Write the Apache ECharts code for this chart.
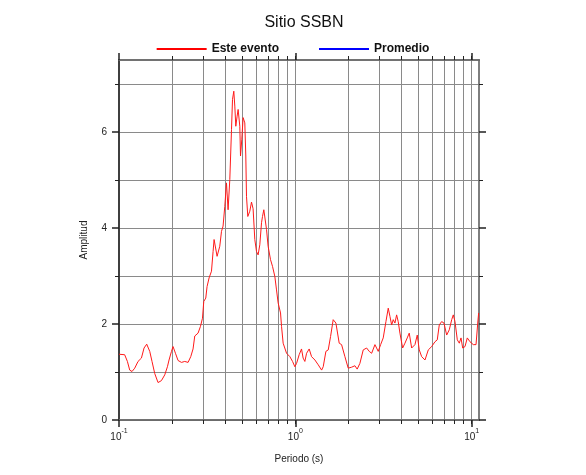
<!DOCTYPE html>
<html><head><meta charset="utf-8">
<script src="https://cdn.jsdelivr.net/npm/echarts@6/dist/echarts.min.js"></script>
<style>html,body{margin:0;padding:0;background:#fff}#c{width:586px;height:475px}</style>
</head><body><div id="c"></div>
<script>
// ---- data ----
var periods = [0.100,0.1077,0.1116,0.1150,0.1185,0.1228,0.1282,0.1340,0.1387,0.1436,0.1494,0.1539,0.1594,0.1665,0.1740,0.1817,0.1882,0.1922,0.1984,0.2025,0.2090,0.2162,0.2260,0.2360,0.2464,0.2552,0.2630,0.2689,0.2808,0.2897,0.2974,0.3025,0.3105,0.3158,0.3242,0.3345,0.3416,0.3461,0.3539,0.3599,0.3665,0.3728,0.3812,0.3892,0.3980,0.4069,0.4155,0.4249,0.4345,0.4402,0.4477,0.4536,0.4596,0.4675,0.4737,0.4842,0.4887,0.4971,0.5055,0.5169,0.5237,0.5284,0.5375,0.5517,0.5641,0.5760,0.5889,0.6022,0.6149,0.6287,0.6429,0.6513,0.6625,0.6739,0.6863,0.7008,0.7232,0.7423,0.7650,0.7821,0.7987,0.8241,0.8350,0.8527,0.8915,0.9307,0.9641,0.9936,1.016,1.051,1.084,1.107,1.132,1.158,1.198,1.236,1.291,1.348,1.409,1.439,1.490,1.536,1.584,1.639,1.698,1.773,1.829,1.910,1.994,2.084,2.176,2.242,2.323,2.426,2.536,2.624,2.708,2.827,2.951,3.045,3.150,3.263,3.363,3.438,3.516,3.590,3.670,3.752,3.831,3.918,4.058,4.182,4.310,4.424,4.565,4.766,4.912,5.042,5.203,5.433,5.672,5.929,6.190,6.380,6.548,6.756,6.962,7.213,7.463,7.701,7.863,8.040,8.286,8.505,8.697,8.891,9.163,9.441,9.781,10.21,10.58,10.82,10.95];
var esteEvento = [1.37,1.36,1.22,1.04,1.01,1.08,1.22,1.29,1.50,1.58,1.43,1.22,0.97,0.78,0.82,0.94,1.11,1.25,1.43,1.53,1.39,1.24,1.20,1.22,1.20,1.32,1.48,1.75,1.81,1.95,2.12,2.47,2.54,2.78,2.96,3.10,3.51,3.76,3.72,3.41,3.38,3.62,3.93,4.04,4.45,4.94,4.38,5.01,6.05,6.68,6.85,6.54,6.12,6.33,6.47,6.12,5.50,5.85,6.30,6.19,5.50,4.66,4.24,4.35,4.54,4.40,3.76,3.51,3.44,3.65,4.11,4.24,4.38,4.35,3.97,3.62,3.34,3.20,2.99,2.71,2.44,2.23,1.95,1.60,1.39,1.32,1.22,1.11,1.18,1.36,1.48,1.29,1.22,1.39,1.48,1.32,1.25,1.15,1.04,1.11,1.43,1.46,1.74,2.09,2.02,1.60,1.57,1.32,1.08,1.10,1.13,1.06,1.18,1.46,1.50,1.43,1.39,1.57,1.43,1.57,1.71,2.05,2.33,2.16,1.98,2.09,2.02,2.19,2.05,1.81,1.50,1.60,1.71,1.81,1.50,1.57,1.77,1.46,1.32,1.25,1.46,1.53,1.63,1.67,1.98,2.05,2.02,1.77,1.88,2.09,2.19,2.05,1.67,1.60,1.71,1.50,1.53,1.71,1.63,1.57,1.57,2.02,2.23];
var promedio = [];
var xMajor = [0.1, 1, 10];
var xMajorExp = ['-1', '0', '1'];
var xMinor = [0.2,0.3,0.4,0.5,0.6,0.7,0.8,0.9,1,2,3,4,5,6,7,8,9,10];
var yMajor = [0, 2, 4, 6];
var yMinor = [1, 3, 5, 7];
var xMin = 0.1, xMax = 11, yMin = 0, yMax = 7.5;

// ---- chart ----
var chart = echarts.init(document.getElementById('c'), null, {renderer: 'canvas'});
var FONT = 'Liberation Sans, Arial, sans-serif';
var gridColor = '#8a8a8a';
var borderColor = '#333';

function xAxisDef(pos, major) {
  return {
    type: 'log', logBase: 10, min: xMin, max: xMax, position: pos,
    axisLine: {show: true, onZero: false, lineStyle: {color: major ? borderColor : '#777', width: 1.5}},
    axisTick: {show: true, inside: false, length: major ? 7 : 4,
      customValues: major ? xMajor : xMinor,
      lineStyle: {color: '#222', width: major ? 1.5 : 1}},
    axisLabel: (pos === 'bottom' && major) ? {
      show: true, customValues: xMajor, margin: 8, fontFamily: FONT, color: '#222',
      formatter: function (v) {
        var i = -1;
        for (var k = 0; k < xMajor.length; k++) { if (Math.abs(xMajor[k] - v) < 1e-6 * xMajor[k]) i = k; }
        return i < 0 ? '' : '{b|10}{s|' + xMajorExp[i] + '}';
      },
      rich: {b: {fontSize: 10, fontFamily: FONT, color: '#222', verticalAlign: 'bottom', lineHeight: 14},
             s: {fontSize: 7, fontFamily: FONT, color: '#222', verticalAlign: 'top', lineHeight: 14}}
    } : {show: false},
    splitLine: {show: pos === 'bottom' && !major, lineStyle: {color: gridColor, width: 1}},
    name: (pos === 'bottom' && major) ? 'Periodo (s)' : '',
    nameLocation: 'middle', nameGap: 34,
    nameTextStyle: {fontFamily: FONT, fontSize: 10, color: '#222'}
  };
}
function yAxisDef(pos, major) {
  return {
    type: 'value', min: yMin, max: yMax, position: pos,
    axisLine: {show: true, onZero: false, lineStyle: {color: (pos === 'left') ? borderColor : '#777', width: 1.5}},
    axisTick: {show: true, inside: false, length: major ? 7 : 4,
      customValues: major ? yMajor : yMinor,
      lineStyle: {color: '#222', width: major ? 1.5 : 1}},
    axisLabel: (pos === 'left' && major) ? {
      show: true, customValues: yMajor, margin: 12, fontFamily: FONT, fontSize: 10, color: '#222'
    } : {show: false},
    splitLine: {show: pos === 'left', lineStyle: {color: gridColor, width: 1}},
    name: (pos === 'left' && major) ? 'Amplitud' : '',
    nameLocation: 'middle', nameGap: 30,
    nameTextStyle: {fontFamily: FONT, fontSize: 10, color: '#222'}
  };
}

chart.setOption({
  animation: false,
  backgroundColor: '#fff',
  title: {text: 'Sitio SSBN', left: 299, textAlign: 'center', top: 10,
    textStyle: {fontFamily: FONT, fontSize: 16, fontWeight: 'normal', color: '#111'}},
  legend: {
    top: 38, left: 'center', itemWidth: 50, itemHeight: 2, itemGap: 40, icon: 'rect',
    data: ['Este evento', 'Promedio'],
    textStyle: {fontFamily: FONT, fontSize: 12, fontWeight: 'bold', color: '#111'}
  },
  grid: {left: 119, right: 107, top: 60, bottom: 55, containLabel: false},
  xAxis: [xAxisDef('bottom', true), xAxisDef('bottom', false), xAxisDef('top', true), xAxisDef('top', false)],
  yAxis: [yAxisDef('left', true), yAxisDef('left', false), yAxisDef('right', true), yAxisDef('right', false)],
  series: [
    {name: 'Este evento', type: 'line', xAxisIndex: 0, yAxisIndex: 0, showSymbol: false, symbol: 'none',
     color: '#ff0000', lineStyle: {color: '#ff1a1a', width: 1},
     data: periods.map(function (p, i) { return [p, esteEvento[i]]; }), z: 5},
    {name: 'Promedio', type: 'line', xAxisIndex: 0, yAxisIndex: 0, showSymbol: false, symbol: 'none',
     color: '#0000ff', lineStyle: {color: '#0000ff', width: 1}, data: promedio}
  ]
});
</script></body></html>
